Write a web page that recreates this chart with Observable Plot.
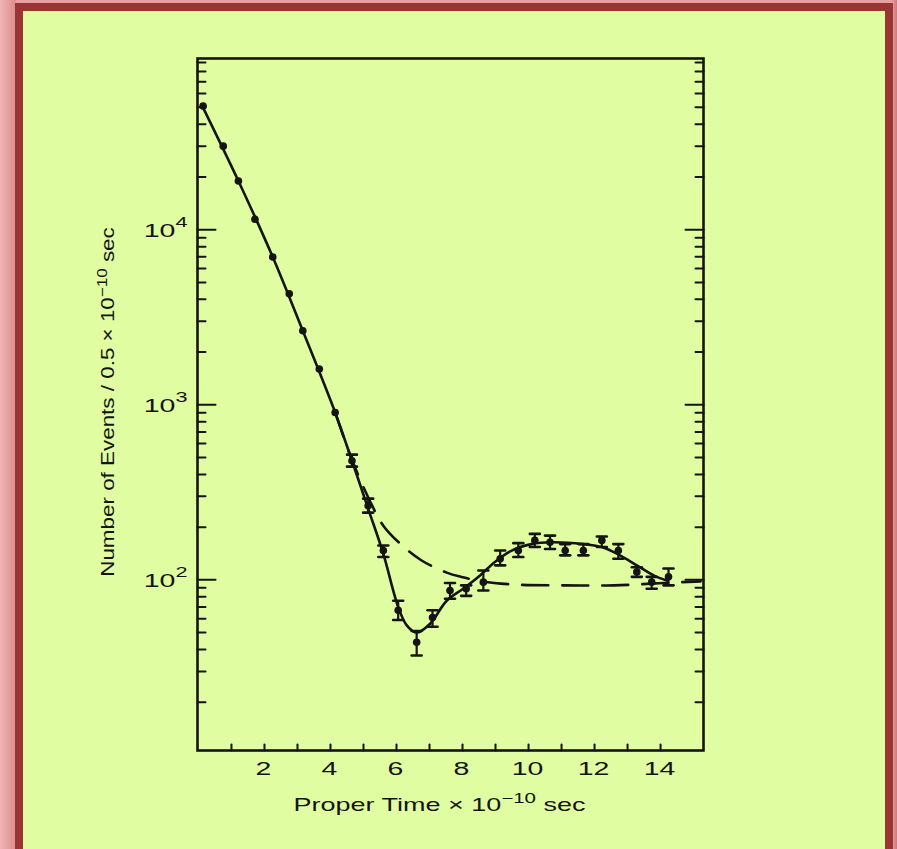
<!DOCTYPE html>
<html><head><meta charset="utf-8">
<script src="https://cdn.jsdelivr.net/npm/d3@7"></script>
<script src="https://cdn.jsdelivr.net/npm/@observablehq/plot@0.6"></script>
<style>
html,body{margin:0;padding:0}
body{width:897px;height:849px;overflow:hidden;position:relative;background:linear-gradient(to right,#f0b4b4 0px,#dc8e8e 15px,#e6a0a0 16px,#e6a0a0 892px,#c97a7a 897px)}
#frame{position:absolute;left:15px;top:3px;width:878px;height:880px;box-sizing:border-box;border:8px solid #9a3535;background:#e0fda2}
#chart{position:absolute;left:0;top:0}
</style></head><body><div id="frame"></div><div id="chart"></div>
<script>
// Measured data points (proper time, events per bin)
const pointX = [0.05, 0.66, 1.12, 1.62, 2.16, 2.66, 3.07, 3.57, 4.05, 4.56, 5.05, 5.51, 5.96, 6.52, 7.0, 7.53, 8.02, 8.54, 9.05, 9.6, 10.1, 10.56, 11.02, 11.57, 12.13, 12.63, 13.19, 13.64, 14.15];
const pointY = [50800, 30000, 18970, 11460, 6980, 4310, 2645, 1600, 904, 479, 265, 147, 67, 44, 61, 87, 89, 97, 132, 147, 168, 164, 147, 147, 168, 147, 111, 97, 104];
const errLo = [null, null, null, null, null, null, null, null, null, 443, 242, 135, 59, 37, 54, 78, 81, 87, 121, 135, 154, 150, 138, 138, 154, 132, 104, 89, 93];
const errHi = [null, null, null, null, null, null, null, null, null, 519, 291, 157, 76, 51, 67, 96, 93, 113, 147, 162, 183, 179, 160, 160, 177, 160, 118, 104, 116];

// Fit with interference (solid curve)
const solidX = [0, 1.12, 2.16, 3.07, 4.05, 4.56, 5.05, 5.5, 5.96, 6.22, 6.52, 6.92, 7.43, 7.93, 8.44, 8.9, 9.4, 10.0, 10.6, 11.57, 12.17, 12.68, 13.19, 13.7, 14.1];
const solidY = [52000, 18970, 6980, 2645, 904, 479, 255, 143, 70, 55, 50, 56, 76, 89, 106, 127, 147, 160, 164, 160, 153, 138, 121, 106, 99];

// No-interference curve (dashed)
const dashX = [4.05, 4.56, 5.1, 5.51, 6.02, 6.67, 7.43, 7.92, 8.5, 9.5, 11.0, 12.5, 14.0, 15.12];
const dashY = [904, 485, 283, 204, 161, 129, 110, 103.5, 98, 94, 93, 93, 96, 98];

// Axes
const xTickValues = [1,2,3,4,5,6,7,8,9,10,11,12,13,14];
const xLabelValues = [2,4,6,8,10,12,14];
const yMajorTicks = [100, 1000, 10000];
const yMinorTicks = [20,30,40,50,60,70,80,90,200,300,400,500,600,700,800,900,2000,3000,4000,5000,6000,7000,8000,9000,20000,30000,40000,50000,60000,70000,80000,90000];
const xTitle = "Proper Time × 10^−10 sec";
const yTitle = "Number of Events / 0.5 × 10^−10 sec";

const ink = "#141414";
const points = pointX.map((x, i) => ({x, y: pointY[i], lo: errLo[i], hi: errHi[i]}));
const errs = points.filter(d => d.lo != null);
const solid = solidX.map((x, i) => ({x, y: solidY[i]}));
const dashed = dashX.map((x, i) => ({x, y: dashY[i]}));

const lineShape = {draw(context, l) { context.moveTo(0, 0); context.lineTo(0, -l); }};

const chart = Plot.plot({
  width: 897, height: 849,
  marginLeft: 197, marginRight: 194, marginTop: 58, marginBottom: 99,
  style: {background: "transparent", fontFamily: "'Liberation Sans', Arial, Helvetica, sans-serif", color: ink},
  x: {domain: [-0.12, 15.21]},
  y: {type: "log", domain: [10.6, 95000]},
  marks: [
    Plot.line(dashed, {x: "x", y: "y", stroke: ink, strokeWidth: 2.6, strokeDasharray: "26,14", curve: "catmull-rom"}),
    Plot.line(solid, {x: "x", y: "y", stroke: ink, strokeWidth: 2.6, curve: "catmull-rom"}),
    Plot.ruleX(errs, {x: "x", y1: "lo", y2: "hi", stroke: ink, strokeWidth: 2.2}),
    Plot.vector(errs, {x: "x", y: "lo", length: 10, rotate: 90, anchor: "middle", shape: lineShape, stroke: ink, strokeWidth: 2.6}),
    Plot.vector(errs, {x: "x", y: "hi", length: 10, rotate: 90, anchor: "middle", shape: lineShape, stroke: ink, strokeWidth: 2.6}),
    Plot.dot(points, {x: "x", y: "y", r: 3.8, fill: ink}),
    // inward ticks
    Plot.vector(xTickValues, {x: d => d, frameAnchor: "bottom", length: 6, rotate: 0, anchor: "start", dx: -3, shape: lineShape, stroke: ink, strokeWidth: 2}),
    Plot.vector(yMinorTicks, {y: d => d, frameAnchor: "left", length: 8, rotate: 90, anchor: "start", shape: lineShape, stroke: ink, strokeWidth: 2}),
    Plot.vector(yMajorTicks, {y: d => d, frameAnchor: "left", length: 18, rotate: 90, anchor: "start", shape: lineShape, stroke: ink, strokeWidth: 2}),
    Plot.vector(yMinorTicks, {y: d => d, frameAnchor: "right", length: 8, rotate: -90, anchor: "start", shape: lineShape, stroke: ink, strokeWidth: 2}),
    Plot.vector(yMajorTicks, {y: d => d, frameAnchor: "right", length: 18, rotate: -90, anchor: "start", shape: lineShape, stroke: ink, strokeWidth: 2}),
    Plot.frame({stroke: ink, strokeWidth: 2.6}),
    Plot.axisX({ticks: xLabelValues, tickSize: 0, tickPadding: 12, fontSize: 18, label: null, dx: -4, tickFormat: d => String(d)}),
    Plot.axisY({ticks: yMajorTicks, tickSize: 0, tickPadding: 10, fontSize: 19, label: null, dy: 1, tickFormat: d => "10^" + Math.round(Math.log10(d))}),
    Plot.text([xTitle], {frameAnchor: "bottom", text: d => d, dy: 54, dx: -11, fontSize: 19, lineAnchor: "middle", textAnchor: "middle"}),
    Plot.text([yTitle], {frameAnchor: "left", text: d => d, rotate: -90, dx: -89.5, dy: -2.5, fontSize: 19, lineAnchor: "middle", textAnchor: "middle"})
  ]
});
document.getElementById("chart").appendChild(chart);

const NS = "http://www.w3.org/2000/svg";
d3.select(chart).selectAll("text").each(function() {
  const t = this;
  const s = t.textContent;
  let sx = 1.58;
  if (s.startsWith("Proper")) sx = 1.42;
  else if (s.startsWith("Number")) sx = 1.18;
  else if (s.startsWith("10^")) sx = 1.5;
  // horizontal stretch around the anchor point
  const xa = t.getAttribute("x");
  let x = 0;
  if (xa != null && isFinite(+xa)) { x = +xa; t.removeAttribute("x"); }
  const tr = t.getAttribute("transform") || "";
  t.setAttribute("transform", `${tr} translate(${x},0) scale(${sx},1)`);
  if (!s.includes("^")) return;
  const fs = parseFloat(getComputedStyle(t).fontSize) || 18;
  const m = s.match(/^(.*?)\^(\S+)(.*)$/);
  const isTick = !s.startsWith("Proper") && !s.startsWith("Number");
  const shift = fs * (isTick ? 0.5 : 0.38);
  t.textContent = "";
  const a = document.createElementNS(NS, "tspan"); a.textContent = m[1]; t.appendChild(a);
  const b = document.createElementNS(NS, "tspan"); b.textContent = m[2];
  b.setAttribute("font-size", fs * 0.76); b.setAttribute("dy", -shift); t.appendChild(b);
  if (m[3]) { const c = document.createElementNS(NS, "tspan"); c.textContent = m[3]; c.setAttribute("dy", shift); t.appendChild(c); }
});
</script>
</body></html>
